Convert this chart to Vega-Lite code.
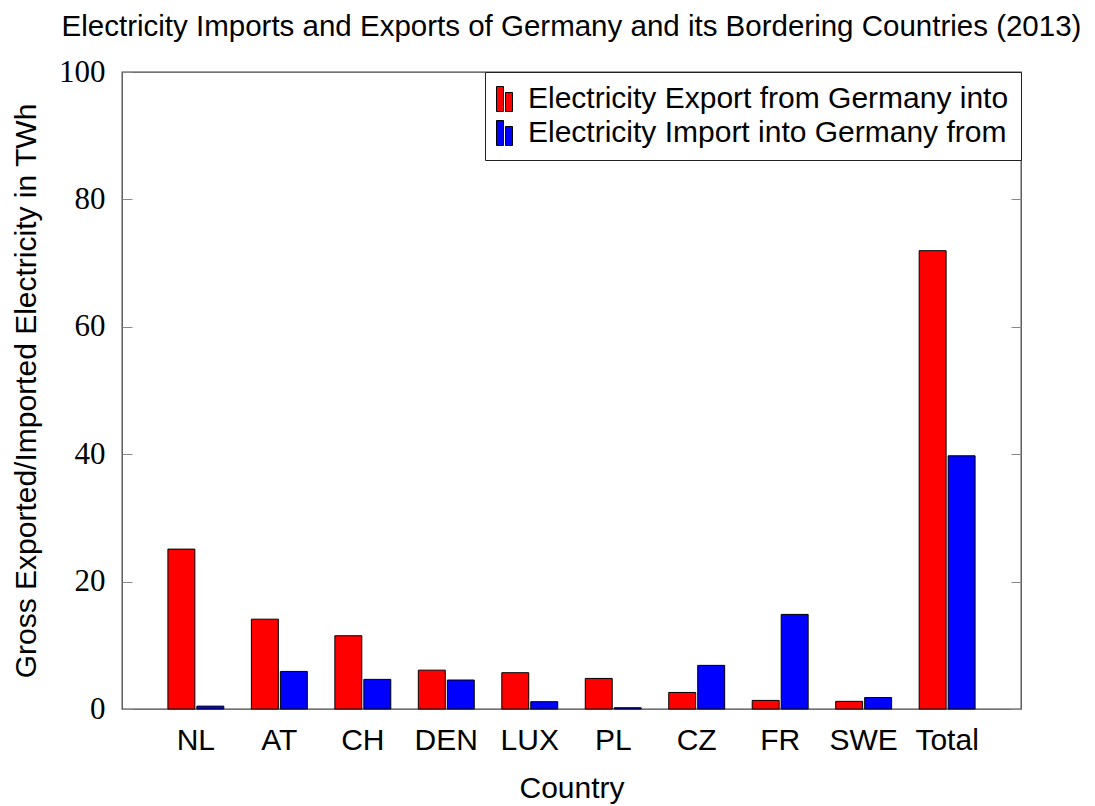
{
  "$schema": "https://vega.github.io/schema/vega-lite/v6.json",
  "width": 899,
  "height": 637,
  "autosize": "none",
  "padding": {"left": 122, "top": 72, "right": 74, "bottom": 97},
  "background": "white",
  "title": {
    "text": "Electricity Imports and Exports of Germany and its Bordering Countries (2013)",
    "font": "Liberation Sans",
    "fontSize": 29.5,
    "fontWeight": "normal",
    "color": "black",
    "anchor": "middle",
    "offset": 14
  },
  "data": {
    "values": [
      {"country": "NL", "flow": "Electricity Export from Germany into", "value": 25.1},
      {"country": "NL", "flow": "Electricity Import into Germany from", "value": 0.45},
      {"country": "AT", "flow": "Electricity Export from Germany into", "value": 14.1},
      {"country": "AT", "flow": "Electricity Import into Germany from", "value": 5.9},
      {"country": "CH", "flow": "Electricity Export from Germany into", "value": 11.5},
      {"country": "CH", "flow": "Electricity Import into Germany from", "value": 4.65},
      {"country": "DEN", "flow": "Electricity Export from Germany into", "value": 6.1},
      {"country": "DEN", "flow": "Electricity Import into Germany from", "value": 4.55},
      {"country": "LUX", "flow": "Electricity Export from Germany into", "value": 5.7},
      {"country": "LUX", "flow": "Electricity Import into Germany from", "value": 1.15},
      {"country": "PL", "flow": "Electricity Export from Germany into", "value": 4.8},
      {"country": "PL", "flow": "Electricity Import into Germany from", "value": 0.2},
      {"country": "CZ", "flow": "Electricity Export from Germany into", "value": 2.6},
      {"country": "CZ", "flow": "Electricity Import into Germany from", "value": 6.85},
      {"country": "FR", "flow": "Electricity Export from Germany into", "value": 1.35},
      {"country": "FR", "flow": "Electricity Import into Germany from", "value": 14.85},
      {"country": "SWE", "flow": "Electricity Export from Germany into", "value": 1.2},
      {"country": "SWE", "flow": "Electricity Import into Germany from", "value": 1.8},
      {"country": "Total", "flow": "Electricity Export from Germany into", "value": 71.95},
      {"country": "Total", "flow": "Electricity Import into Germany from", "value": 39.75}
    ]
  },
  "config": {
    "view": {"stroke": "#444444", "strokeWidth": 1.3},
    "axis": {"grid": false}
  },
  "layer": [
    {
      "mark": {"type": "bar", "stroke": "black", "strokeWidth": 1},
      "encoding": {
        "x": {
          "field": "country",
          "type": "nominal",
          "sort": ["NL", "AT", "CH", "DEN", "LUX", "PL", "CZ", "FR", "SWE", "Total"],
          "scale": {"paddingInner": 0.33, "paddingOuter": 0.55},
          "axis": {
            "title": "Country",
            "titleFont": "Liberation Sans",
            "titleFontSize": 30,
            "titleFontWeight": "normal",
            "titleColor": "black",
            "titlePadding": 18,
            "labelFont": "Liberation Sans",
            "labelFontSize": 30,
            "labelColor": "black",
            "labelAngle": 0,
            "labelPadding": 16,
            "ticks": false,
            "domain": false
          }
        },
        "xOffset": {
          "field": "flow",
          "sort": ["Electricity Export from Germany into", "Electricity Import into Germany from"],
          "scale": {"paddingInner": 0.07}
        },
        "y": {
          "field": "value",
          "type": "quantitative",
          "scale": {"domain": [0, 100], "nice": false},
          "axis": {
            "orient": "left",
            "values": [0, 20, 40, 60, 80, 100],
            "title": "Gross Exported/Imported Electricity in TWh",
            "titleFont": "Liberation Sans",
            "titleFontSize": 30,
            "titleFontWeight": "normal",
            "titleColor": "black",
            "titlePadding": 17,
            "labelFont": "Liberation Serif",
            "labelFontSize": 31,
            "labelColor": "black",
            "labelPadding": 27,
            "tickSize": -10,
            "tickColor": "#888888",
            "domain": false
          }
        },
        "color": {
          "field": "flow",
          "type": "nominal",
          "scale": {
            "domain": ["Electricity Export from Germany into", "Electricity Import into Germany from"],
            "range": ["#ff0000", "#0000ff"]
          },
          "legend": {
            "title": null,
            "orient": "top-right",
            "offset": 0,
            "strokeColor": "#222222",
            "fillColor": "white",
            "padding": 12,
            "symbolType": "M-1.24,-1H-0.68V1H-1.24Z M-0.52,-0.52H0.04V1H-0.52Z",
            "symbolSize": 625,
            "symbolStrokeColor": "black",
            "symbolStrokeWidth": 1,
            "symbolOpacity": 1,
            "labelFont": "Liberation Sans",
            "labelFontSize": 30,
            "labelColor": "black",
            "labelOffset": 1,
            "labelLimit": 700,
            "rowPadding": 4
          }
        }
      }
    },
    {
      "mark": {"type": "rule", "opacity": 0},
      "encoding": {
        "y": {
          "field": "value",
          "type": "quantitative",
          "axis": {
            "orient": "right",
            "values": [0, 20, 40, 60, 80, 100],
            "labels": false,
            "title": null,
            "tickSize": -10,
            "tickColor": "#888888",
            "domain": false
          }
        }
      }
    }
  ],
  "resolve": {"axis": {"y": "independent"}}
}
